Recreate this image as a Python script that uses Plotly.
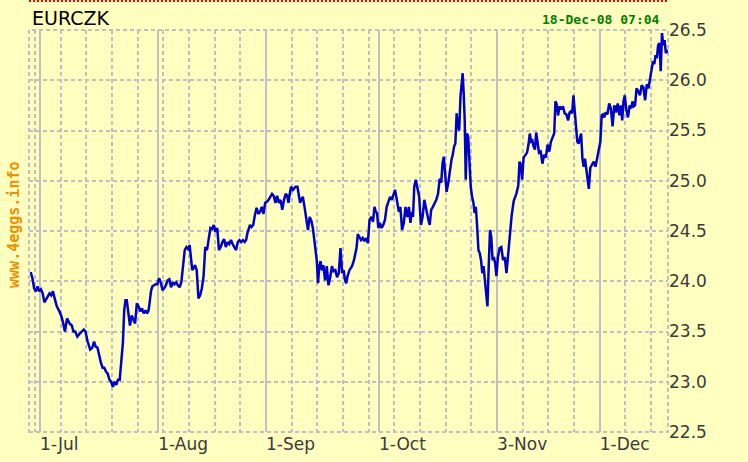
import pandas as pd
import plotly.graph_objects as go

PAIR = "EURCZK"
STAMP = "18-Dec-08 07:04"
SITE = "www.4eggs.info"

# intraday readings per trading day, 27-Jun-08 .. 17-Dec-08
day_values = [
    [24.09, 24.03, 23.93],  # 27 Jun
    [23.90, 23.95, 23.90],
    [23.92, 23.88, 23.79],  # 1 Jul
    [23.82, 23.86, 23.88],
    [23.86, 23.90, 23.83],
    [23.75, 23.70],
    [23.65, 23.58, 23.50],  # 7 Jul
    [23.63, 23.58],
    [23.56, 23.50, 23.50],
    [23.45, 23.48],
    [23.50, 23.52, 23.50],
    [23.40, 23.32],  # 14 Jul
    [23.34, 23.40, 23.35],
    [23.34, 23.25, 23.19],
    [23.14, 23.14, 23.10],
    [23.08, 23.02, 23.00],
    [22.95, 23.00, 22.97],  # 21 Jul
    [23.02, 23.02, 23.24],
    [23.39, 23.71, 23.81, 23.81],
    [23.68, 23.56, 23.66],
    [23.61, 23.58, 23.78],
    [23.75, 23.70, 23.73],  # 28 Jul
    [23.68, 23.71, 23.68],
    [23.71, 23.81, 23.91, 23.95],
    [23.96, 23.97, 23.97],
    [24.03, 23.99, 23.91],  # 1 Aug
    [23.93, 23.96, 24.01],  # 4 Aug
    [24.02, 23.94, 23.99],
    [23.97, 23.99, 23.96],
    [23.94, 23.99, 24.13],
    [24.31, 24.34, 24.32],
    [24.36, 24.21, 24.11, 24.13],  # 11 Aug
    [24.16, 24.11, 23.83],
    [23.86, 23.93, 24.05],
    [24.34, 24.31, 24.44],
    [24.53, 24.52, 24.56],
    [24.49, 24.53, 24.31],  # 18 Aug
    [24.34, 24.39, 24.42],
    [24.34, 24.39, 24.37],
    [24.41, 24.37, 24.34],
    [24.31, 24.39, 24.41],
    [24.39, 24.41, 24.39],  # 25 Aug
    [24.41, 24.48, 24.53, 24.56],
    [24.54, 24.56, 24.66],
    [24.73, 24.67, 24.69],
    [24.74, 24.67, 24.78],
    [24.79, 24.81, 24.84],  # 1 Sep
    [24.87, 24.85, 24.78],
    [24.85, 24.78, 24.81],
    [24.71, 24.81, 24.87],
    [24.85, 24.78, 24.87, 24.94],
    [24.91, 24.94],  # 8 Sep
    [24.94, 24.85, 24.78, 24.81],
    [24.84, 24.74, 24.63],
    [24.51, 24.64, 24.60],
    [24.53, 24.43, 24.33, 24.21],
    [23.98, 24.15, 24.20, 24.11],  # 15 Sep
    [24.16, 24.01, 24.15],
    [23.96, 24.04, 24.15],
    [24.10, 24.11, 24.04],
    [24.08, 24.33, 24.08],
    [24.11, 24.01, 23.98, 24.05],  # 22 Sep
    [24.11, 24.15],
    [24.21, 24.28, 24.33, 24.47],
    [24.44, 24.41, 24.43],
    [24.40, 24.43, 24.38],
    [24.61, 24.64, 24.59],  # 29 Sep
    [24.74, 24.69, 24.68, 24.53],
    [24.58, 24.53, 24.56],  # 1 Oct
    [24.61, 24.74, 24.79],
    [24.84, 24.81, 24.87],
    [24.91, 24.84, 24.78, 24.69],  # 6 Oct
    [24.74, 24.51, 24.58],
    [24.74, 24.64, 24.74],
    [24.58, 24.69, 24.64, 24.94],
    [25.01, 24.91, 24.84],
    [24.56, 24.64, 24.81],  # 13 Oct
    [24.72, 24.68, 24.61, 24.56],
    [24.71, 24.74, 24.78],
    [24.81, 24.87, 25.02],
    [24.98, 25.17, 25.24, 25.11],
    [24.89, 24.98, 25.14],  # 20 Oct
    [25.21, 25.26, 25.34, 25.37],
    [25.67, 25.54, 25.50, 25.84],
    [25.94, 26.07, 25.87, 25.60, 25.01],
    [25.47, 25.44, 25.11, 24.94],
    [24.84, 24.79, 24.68, 24.74],  # 27 Oct
    [24.54, 24.31, 24.28, 24.21],
    [24.08, 24.15, 24.01, 23.88],
    [23.75, 24.15, 24.51, 24.44],
    [24.21, 24.24, 24.18, 24.05],
    [24.24, 24.33, 24.34],  # 3 Nov
    [24.21, 24.24, 24.08],
    [24.28, 24.45, 24.65],
    [24.80, 24.87],
    [24.95, 25.19, 25.16, 25.01],
    [25.23, 25.26, 25.28],  # 10 Nov
    [25.36, 25.47, 25.39, 25.40],
    [25.34, 25.31, 25.48, 25.39],
    [25.28, 25.29, 25.17],
    [25.26, 25.23, 25.36],
    [25.29, 25.39, 25.43],  # 17 Nov
    [25.47, 25.79, 25.76, 25.65],
    [25.74, 25.71, 25.74],
    [25.67, 25.66, 25.60],
    [25.68, 25.69, 25.67, 25.85],
    [25.71, 25.49, 25.39, 25.37],  # 24 Nov
    [25.41, 25.47, 25.22, 25.14],
    [25.22, 25.13, 25.04, 24.92],
    [25.13, 25.16, 25.19],
    [25.14, 25.22, 25.32],
    [25.39, 25.65, 25.66, 25.63],  # 1 Dec
    [25.68, 25.66, 25.77],
    [25.72, 25.54, 25.75],
    [25.68, 25.77, 25.65],
    [25.75, 25.60, 25.79, 25.85],
    [25.71, 25.63, 25.75],  # 8 Dec
    [25.72, 25.79, 25.74, 25.75],
    [25.92, 25.89, 25.85],
    [25.95, 25.93, 25.80],
    [25.96, 25.92, 26.02],
    [26.12, 26.19, 26.16, 26.25],  # 15 Dec
    [26.22, 26.35, 26.37, 26.09],
    [26.47, 26.35, 26.40, 26.27],
]
last_time = "2008-12-18 07:04"
last_value = 26.30

month_ticks = ["2008-07-01", "2008-08-01", "2008-09-01", "2008-10-01", "2008-11-03", "2008-12-01"]
month_labels = ["1-Jul", "1-Aug", "1-Sep", "1-Oct", "3-Nov", "1-Dec"]
y_ticks = [22.5, 23.0, 23.5, 24.0, 24.5, 25.0, 25.5, 26.0, 26.5]

# spread each day's readings across the day
days = pd.bdate_range("2008-06-27", periods=len(day_values))
times, values = [], []
for day, vals in zip(days, day_values):
    for i, v in enumerate(vals):
        times.append(day + pd.Timedelta(hours=24 * (i + 0.5) / len(vals)))
        values.append(v)
times.append(pd.Timestamp(last_time))
values.append(last_value)

mondays = pd.date_range("2008-06-30", "2008-12-15", freq="W-MON")

BG = "#ffffc0"
GRID = "#c0c0c0"
DASH = "4px,3px"

fig = go.Figure()
fig.add_trace(go.Scatter(
    x=times, y=values, mode="lines",
    line=dict(color="#0000cc", width=2.5),
    hovertemplate="%{x|%d-%b-%y %H:%M}<br>%{y:.3f}<extra></extra>",
    showlegend=False,
))

fig.update_layout(
    width=748, height=462,
    margin=dict(l=29, r=80, t=30, b=30),
    paper_bgcolor=BG, plot_bgcolor=BG,
    font=dict(family="DejaVu Sans", color="#3a3a3a"),
    xaxis=dict(
        type="date", automargin=False,
        range=["2008-06-26 20:00", last_time],
        rangebreaks=[dict(bounds=["sat", "mon"])],
        tickmode="array", tickvals=month_ticks, ticktext=month_labels,
        ticklabelposition="outside right",
        tickfont=dict(size=17),
        ticks="", showline=False, zeroline=False,
        showgrid=True, gridcolor=GRID, gridwidth=2,
        minor=dict(tickmode="array", tickvals=list(mondays), showgrid=True,
                   gridcolor=GRID, gridwidth=2, griddash=DASH),
    ),
    yaxis=dict(
        side="right", automargin=False,
        range=[22.5, 26.5],
        tickmode="array", tickvals=y_ticks,
        ticktext=[f"{v:.1f}" for v in y_ticks],
        tickfont=dict(size=17),
        ticks="", showline=False, zeroline=False,
        showgrid=True, gridcolor=GRID, gridwidth=2, griddash=DASH,
    ),
)

# dotted frame round the plot area
fig.add_shape(type="rect", xref="paper", yref="paper", x0=0, x1=1, y0=0, y1=1,
              line=dict(color=GRID, width=2, dash=DASH), layer="below")
# red dotted rule along the top edge
fig.add_shape(type="line", xref="paper", yref="paper", x0=0, x1=1,
              y0=1 + 29 / 402, y1=1 + 29 / 402,
              line=dict(color="#ff0000", width=2, dash="2px,2px"))

fig.add_annotation(text=PAIR, xref="paper", yref="paper", x=0.002, y=1.03,
                   xanchor="left", yanchor="middle", showarrow=False,
                   font=dict(family="DejaVu Sans", size=19, color="#000000"))
fig.add_annotation(text=f"<b>{STAMP}</b>", xref="paper", yref="paper", x=0.991, y=1.026,
                   xanchor="right", yanchor="middle", showarrow=False,
                   font=dict(family="DejaVu Sans Mono", size=13, color="#008000"))
fig.add_annotation(text=f"<b>{SITE}</b>", xref="paper", yref="paper", x=-0.0235, y=0.515,
                   xanchor="center", yanchor="middle", textangle=-90, showarrow=False,
                   font=dict(family="DejaVu Sans Mono", size=15, color="#f09000"))

# the page's default body margin would shift the figure by 8px
fig.write_html("out.html", config={"displayModeBar": False},
               post_script="document.body.style.margin='0';")
